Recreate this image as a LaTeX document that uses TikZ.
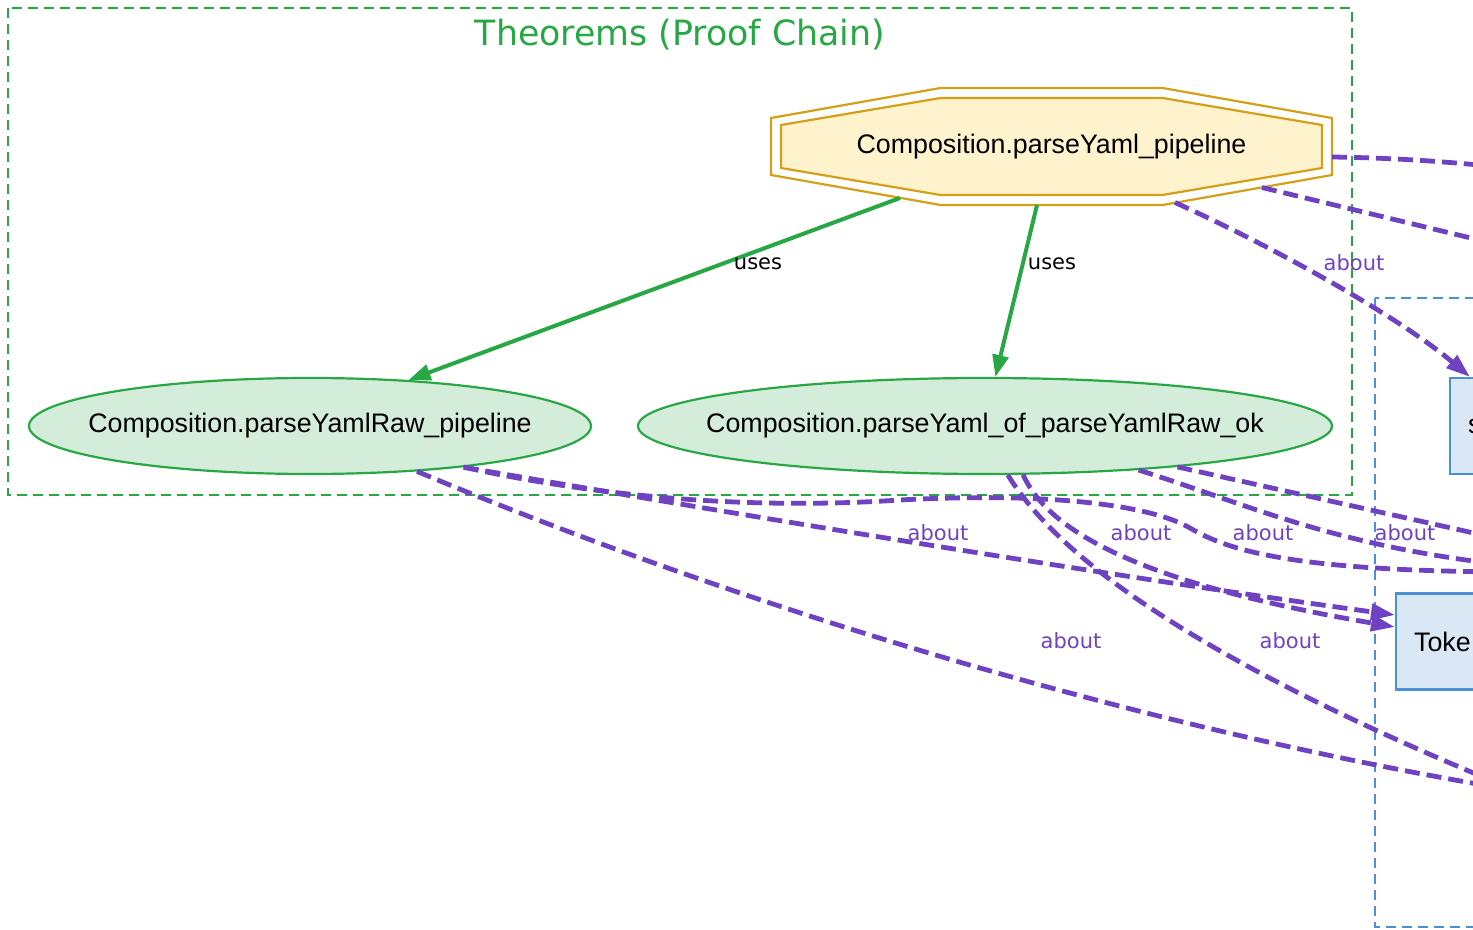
\documentclass[tikz,border=0pt]{standalone}
\usepackage{fontspec}
\setmainfont{Liberation Sans}
\newfontfamily\labelfont{DejaVu Sans}
\usetikzlibrary{arrows.meta,shapes.geometric,backgrounds}

\definecolor{thmgreen}{HTML}{28A745}
\definecolor{thmfill}{HTML}{D4EDDA}
\definecolor{goalgold}{HTML}{D4A017}
\definecolor{goalfill}{HTML}{FFF3CD}
\definecolor{aboutpurple}{HTML}{6F42C1}
\definecolor{defblue}{HTML}{4A90D9}
\definecolor{deffill}{HTML}{DAE8F5}

\begin{document}
\begin{tikzpicture}[x=0.5pt,y=-0.5pt,
  nodefont/.style={font=\fontsize{13.4}{16}\selectfont},
  % ellipse drawn at a fixed size, its name written on top of it
  thm/.style={ellipse, draw=thmgreen, fill=thmfill, line width=1.1pt, inner sep=0pt,
    label={[nodefont, inner sep=0pt]center:#1}},
  goal/.style={rectangle, inner sep=0pt, minimum width=280pt, minimum height=58pt, nodefont},
  octline/.style={draw=goalgold, line width=1.1pt, line join=miter},
  defbox/.style={rectangle, draw=defblue, fill=deffill, line width=1.1pt, anchor=west,
    minimum height=48pt, inner ysep=0pt, inner xsep=9pt, text width=180pt, align=left, nodefont},
  thmcluster/.style={draw=thmgreen, line width=1pt, dash pattern=on 5pt off 3pt},
  defcluster/.style={draw=defblue, line width=1pt, dash pattern=on 5pt off 3pt},
  uses/.style={draw=thmgreen, line width=2pt, -{Triangle[length=11pt,width=8pt]}},
  aboutline/.style={draw=aboutpurple, line width=2.4pt, dash pattern=on 7.5pt off 3.5pt},
  about/.style={aboutline, -{Triangle[length=12pt,width=8pt]}},
  edgelabel/.style={font=\labelfont\fontsize{10.5}{12}\selectfont, inner sep=0pt},
  useslabel/.style={edgelabel, text=black},
  aboutlabel/.style={edgelabel, text=aboutpurple},
]
\useasboundingbox (0,0) rectangle (1473,930);

% ---- nodes ----
\node[font=\labelfont\fontsize{17.4}{20}\selectfont, text=thmgreen] (thmtitle) at (680,35) {Theorems (Proof Chain)};
\node[goal] (pipe) at (1051.5,146.5) {Composition.parseYaml\_pipeline};
\node[thm={Composition.parseYamlRaw\_pipeline}, minimum width=281pt, minimum height=48pt] (raw) at (310,426) {};
\node[thm={Composition.parseYaml\_of\_parseYamlRaw\_ok}, minimum width=347pt, minimum height=48pt] (ofraw) at (985,426) {};
\node[defbox] (sdef) at (1449,426) {s};
\node[defbox] (tok) at (1395,641.5) {Toke};

% ---- clusters and the double octagon, behind everything ----
\begin{scope}[on background layer]
  \draw[thmcluster] (8,8) rectangle (1352,495);
  \draw[defcluster] (1375,298) rectangle (1620,927);
  \begin{scope}[shift={(pipe.center)}]
    \draw[octline] (-111,-58.5) -- (111,-58.5) -- (280.5,-28.5) -- (280.5,28.5)
      -- (111,58.5) -- (-111,58.5) -- (-280.5,28.5) -- (-280.5,-28.5) -- cycle;
    \draw[octline, fill=goalfill] (-111,-48.5) -- (111,-48.5) -- (270.5,-21.5) -- (270.5,21.5)
      -- (111,48.5) -- (-111,48.5) -- (-270.5,21.5) -- (-270.5,-21.5) -- cycle;
  \end{scope}
\end{scope}

% ---- targets beyond the right edge ----
\coordinate (offA) at (1510,168);
\coordinate (offB) at (1510,247.5);
\coordinate (offE) at (1510,572);
\coordinate (offF) at (1495,787);
\coordinate (offH) at (1495,782);
\coordinate (offI) at (1505,565);
\coordinate (offJ) at (1505,540);

% ---- uses edges ----
\draw[uses] ([shift={(-151.5,51.5)}]pipe.center) -- (raw.25);
\draw[uses] ([shift={(-14.5,58.5)}]pipe.center) -- (ofraw.78);

% ---- about edges ----
\draw[aboutline] ([shift={(280.5,10.5)}]pipe.center) .. controls (1400,158) and (1450,162) .. (offA);
\draw[aboutline] ([shift={(210.5,41)}]pipe.center) -- (offB);
\draw[about] ([shift={(123.5,56)}]pipe.center) .. controls (1280,250) and (1400,318) .. ([xshift=10.5pt]sdef.north west);

\draw[about] (raw.-15) .. controls (700,508) and (1100,575) .. ([yshift=13.25pt]tok.west);
\draw[aboutline] (raw.-15) .. controls (600,497) and (750,510) .. (900,500)
  .. controls (1050,492) and (1150,505) .. (1190,528)
  .. controls (1230,552) and (1300,571) .. (offE);
\draw[aboutline] (raw.-23) .. controls (700,590) and (1100,720) .. (offF);

\draw[about] (ofraw.-52) .. controls (1050,535) and (1150,585) .. ([yshift=7.25pt]tok.west);
\draw[aboutline] (ofraw.-65) .. controls (1060,560) and (1200,660) .. (offH);
\draw[aboutline] (ofraw.-16) .. controls (1250,505) and (1330,545) .. (offI);
\draw[aboutline] (ofraw.-12) -- (offJ);

% ---- edge labels ----
\node[useslabel] (l1) at (758,264) {uses};
\node[useslabel] (l2) at (1052,264) {uses};
\node[aboutlabel] (l3) at (1354,263) {about};
\node[aboutlabel] (l4) at (938,533) {about};
\node[aboutlabel] (l5) at (1141,533) {about};
\node[aboutlabel] (l6) at (1263,533) {about};
\node[aboutlabel] (l7) at (1405,533) {about};
\node[aboutlabel] (l8) at (1071,641) {about};
\node[aboutlabel] (l9) at (1290,641) {about};
\end{tikzpicture}
\end{document}
